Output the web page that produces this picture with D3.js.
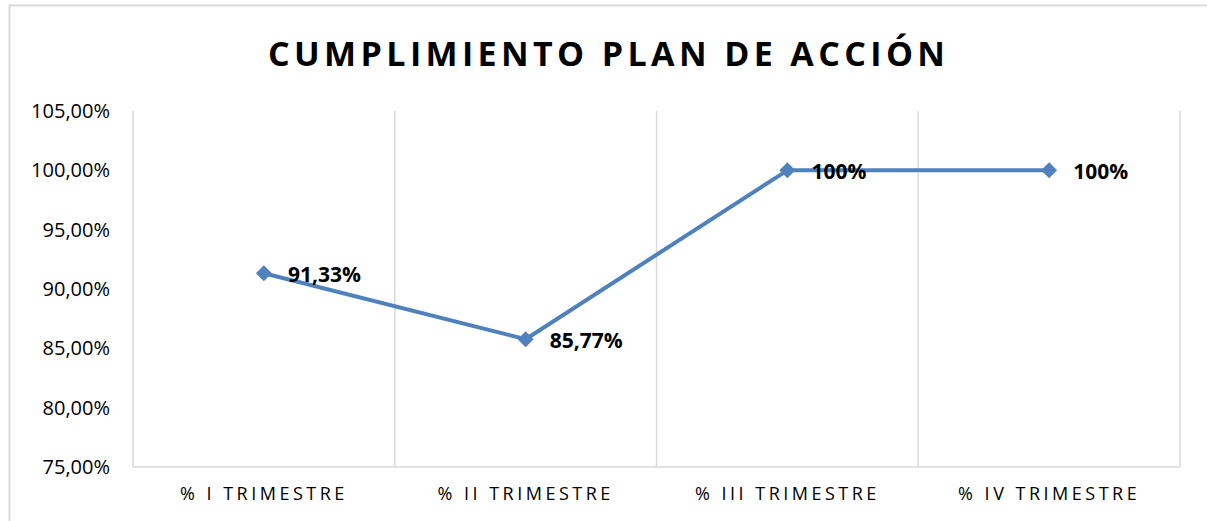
<!DOCTYPE html>
<meta charset="utf-8">
<script src="https://d3js.org/d3.v7.min.js"></script>
<style>
  body { margin: 0; background: #fff; font-family: "Open Sans", sans-serif; }
</style>
<body>
<div id="chart"></div>
<script>
// data
const categories = ["% I TRIMESTRE", "% II TRIMESTRE", "% III TRIMESTRE", "% IV TRIMESTRE"];
const values = [91.33, 85.77, 100, 100];
const labels = ["91,33%", "85,77%", "100%", "100%"];
const yTicks = [75, 80, 85, 90, 95, 100, 105];

const W = 1207, H = 521;
const margin = {top: 111, right: 27, bottom: 54, left: 133};

const svg = d3.select("#chart").append("svg")
  .attr("width", W).attr("height", H);

// chart frame
svg.append("rect")
  .attr("x", 9.5).attr("y", 5.5)
  .attr("width", W + 10).attr("height", H + 10)
  .attr("fill", "none").attr("stroke", "#d9d9d9").attr("stroke-width", 2);

// title
svg.append("text")
  .attr("x", 268).attr("y", 66)
  .attr("textLength", 677).attr("lengthAdjust", "spacing")
  .style("font-size", "34px").style("font-weight", "bold")
  .attr("fill", "#000")
  .text("CUMPLIMIENTO PLAN DE ACCIÓN");

const x = d3.scaleBand()
  .domain(categories)
  .range([margin.left, W - margin.right]);

const y = d3.scaleLinear()
  .domain([75, 105])
  .range([H - margin.bottom, margin.top]);

// vertical gridlines (category separators)
const edges = categories.map(c => x(c)).concat([x.range()[1]]);
svg.append("g")
  .selectAll("line")
  .data(edges)
  .join("line")
    .attr("x1", d => d).attr("x2", d => d)
    .attr("y1", y(105)).attr("y2", y(75))
    .attr("stroke", "#d9d9d9").attr("stroke-width", 1.5);

// bottom axis line
svg.append("line")
  .attr("x1", x.range()[0]).attr("x2", x.range()[1])
  .attr("y1", y(75)).attr("y2", y(75))
  .attr("stroke", "#d9d9d9").attr("stroke-width", 1.5);

// y axis labels
const yAxis = d3.axisLeft(y)
  .tickValues(yTicks)
  .tickSize(0)
  .tickPadding(0)
  .tickFormat(d => d.toFixed(2).replace(".", ",") + "%");
const gy = svg.append("g")
  .attr("transform", `translate(110,0)`)
  .call(yAxis);
gy.select(".domain").remove();
gy.selectAll("text")
  .style("font-family", "'Open Sans', sans-serif")
  .style("font-size", "20px")
  .attr("fill", "#000");

// x axis labels
const xAxis = d3.axisBottom(x).tickSize(0).tickPadding(0);
const gx = svg.append("g")
  .attr("transform", `translate(0,${y(75)})`)
  .call(xAxis);
gx.select(".domain").remove();
gx.selectAll("text")
  .attr("y", 27)
  .attr("dy", "0.35em")
  .style("font-family", "'Open Sans', sans-serif")
  .style("font-size", "18px")
  .style("letter-spacing", "3.5px")
  .attr("fill", "#000");

// line
const cx = (d, i) => x(categories[i]) + x.bandwidth() / 2;
const line = d3.line()
  .x(cx)
  .y(d => y(d));

svg.append("path")
  .datum(values)
  .attr("d", line)
  .attr("fill", "none")
  .attr("stroke", "#4f81bd")
  .attr("stroke-width", 4)
  .attr("stroke-linejoin", "round");

// markers
svg.append("g")
  .selectAll("path")
  .data(values)
  .join("path")
    .attr("d", d3.symbol(d3.symbolSquare, 128))
    .attr("transform", (d, i) => `translate(${cx(d, i)},${y(d)}) rotate(45)`)
    .attr("fill", "#4f81bd");

// data labels
svg.append("g")
  .selectAll("text")
  .data(values)
  .join("text")
    .attr("x", (d, i) => cx(d, i) + 24)
    .attr("y", d => y(d) + 1)
    .attr("dy", "0.35em")
    .style("font-size", "21px")
    .style("font-weight", "bold")
    .attr("fill", "#000")
    .text((d, i) => labels[i]);
</script>
</body>
